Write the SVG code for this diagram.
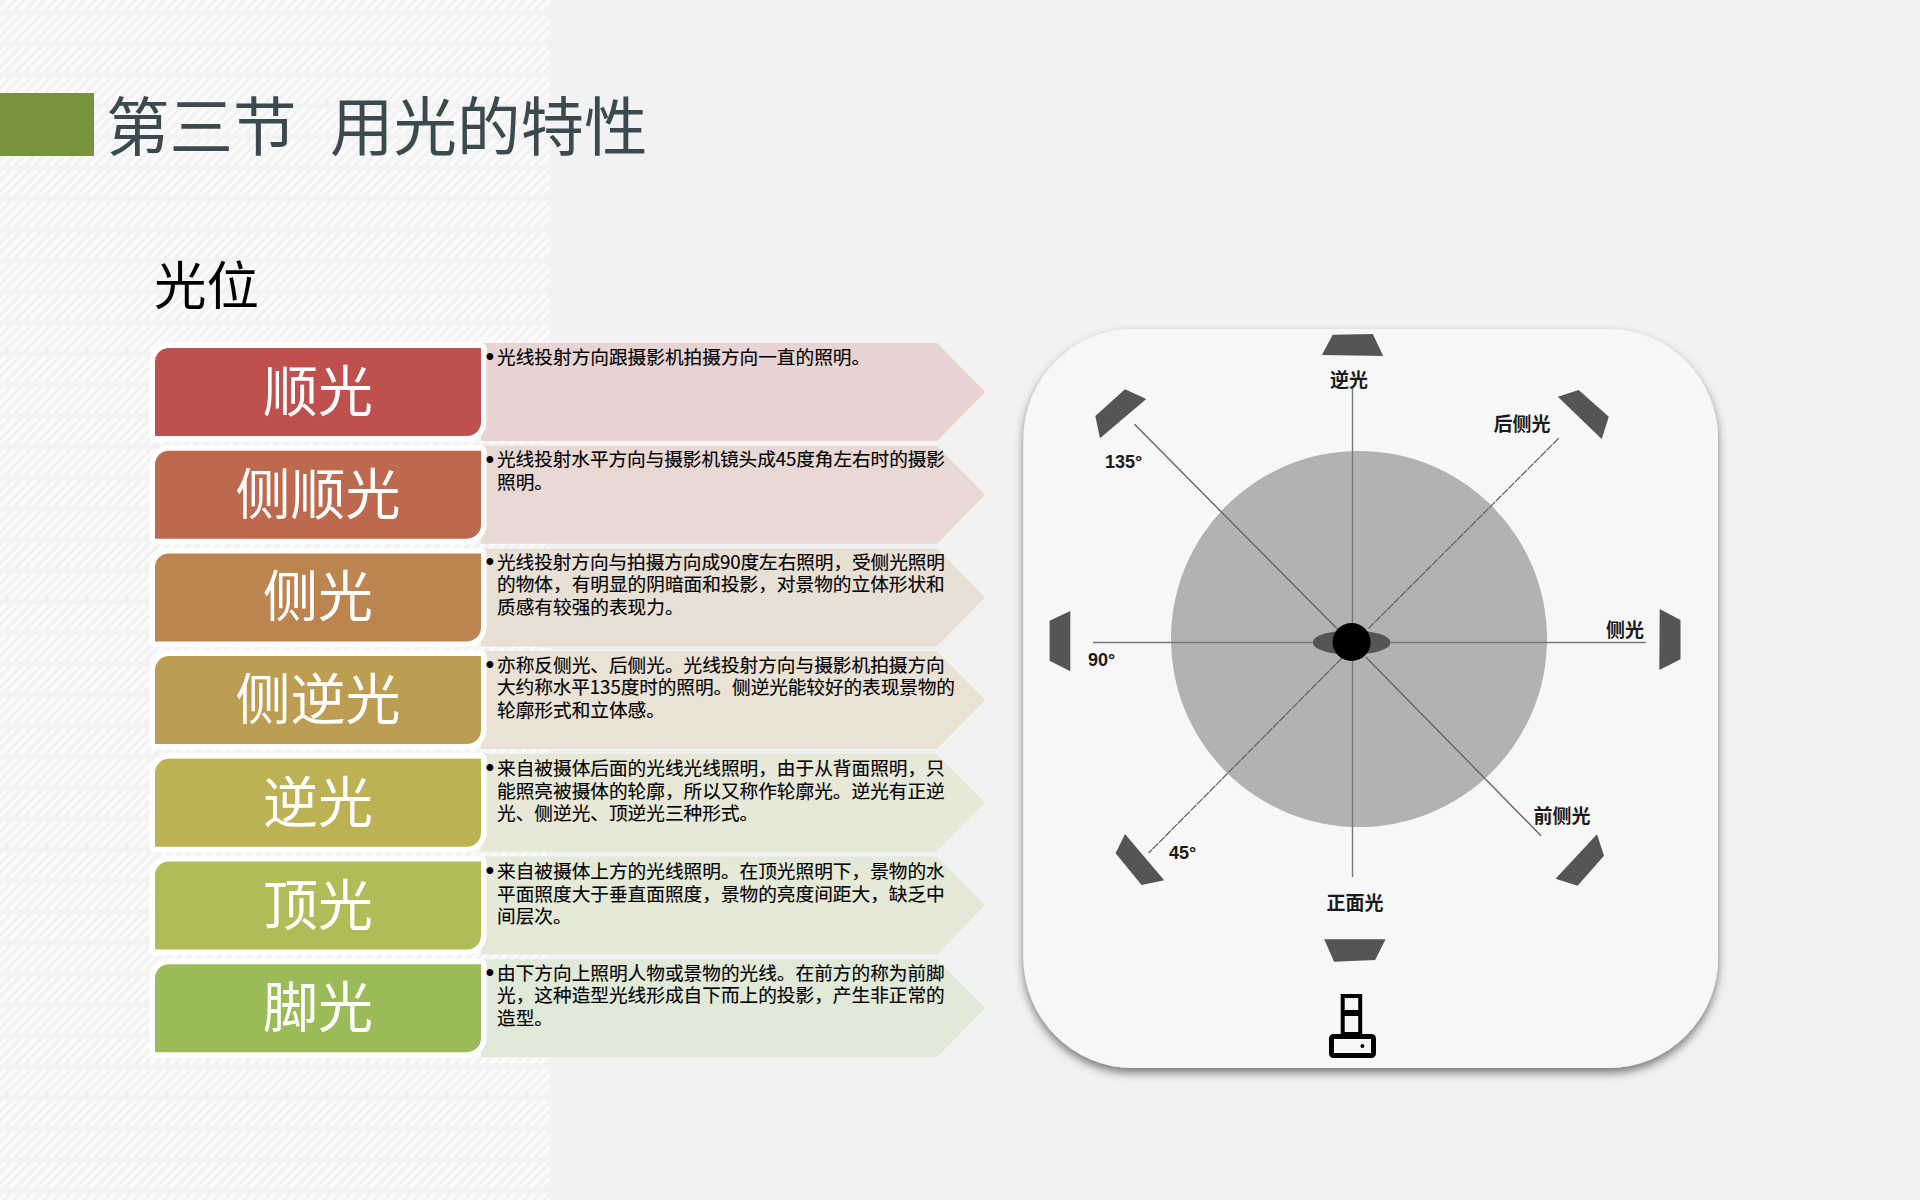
<svg xmlns="http://www.w3.org/2000/svg" width="1920" height="1200" viewBox="0 0 1920 1200">
<style>
text{font-family:"Noto Sans CJK SC","Noto Sans",sans-serif}
.title{font-size:63.5px;fill:#3b4a4e}
.sub{font-size:52.5px;fill:#000}
.label{font-size:55px;fill:#fff;text-anchor:middle}
.desc{font-size:18.67px;fill:#000;stroke:#000;stroke-width:.15}
.bul{font-size:25px;fill:#000;font-family:"Liberation Sans",sans-serif}
.cap{font-size:19px;font-weight:700;fill:#1a1a1a}
.deg{font-size:18px;font-weight:700;fill:#1a1a1a;font-family:"Liberation Sans",sans-serif}
.box{stroke:#fff;stroke-width:11;paint-order:stroke;stroke-linejoin:round}
.lamp{fill:#555}
.ray{stroke:#777;stroke-width:1.4;fill:none}
.ray2{stroke:#666;stroke-width:1.4;fill:none}
.ray3{stroke:#666;stroke-width:1.3;fill:none;stroke-dasharray:8 1}
</style>
<defs>
<pattern id="st" width="10" height="31" patternUnits="userSpaceOnUse" patternTransform="translate(0 15)">
<path d="M-30 26L-4 0M-20 26L6 0M-10 26L16 0M0 26L26 0M10 26L36 0" stroke="#fff" stroke-opacity=".6" stroke-width="4" fill="none"/>
</pattern>
<filter id="sh" x="-5%" y="-5%" width="110%" height="110%">
<feDropShadow dx="0" dy="5" stdDeviation="5" flood-color="#000" flood-opacity=".5"/>
</filter>
<filter id="soft" x="-5%" y="-5%" width="110%" height="110%"><feGaussianBlur stdDeviation=".5"/></filter>
<path id="bx" d="M169 0H481V74A14 14 0 0 1 467 88H155V14A14 14 0 0 1 169 0Z"/>
<polygon id="ar" points="481,-5 937,-5 985,44 937,93 481,93"/>
</defs>
<rect width="1920" height="1200" fill="#f2f2f2"/>
<rect width="550" height="1200" fill="url(#st)"/>
<g id="header">
<rect x="0" y="93" width="94" height="63" fill="#77933c"/>
<text class="title" x="106" y="150">第三节<tspan x="330">用光的特性</tspan></text>
<text class="sub" x="154" y="305">光位</text>
</g>

<g id="node-shunguang" transform="translate(0 348)">
<use href="#ar" fill="#e8d4d3"/><use href="#bx" class="box" fill="#c0504d"/>
<text class="label" x="318" y="63">顺光</text>
<text class="bul" x="485.5" y="17">•</text>
<text class="desc" x="497" y="16">光线投射方向跟摄影机拍摄方向一直的照明。</text>
</g>
<g id="node-ceshunguang" transform="translate(0 450.7)">
<use href="#ar" fill="#e8d9d5"/><use href="#bx" class="box" fill="#bd694e"/>
<text class="label" x="318" y="63">侧顺光</text>
<text class="bul" x="485.5" y="17">•</text>
<text class="desc" y="15"><tspan x="497" textLength="448">光线投射水平方向与摄影机镜头成45度角左右时的摄影</tspan><tspan x="497" y="38">照明。</tspan></text>
</g>
<g id="node-ceguang" transform="translate(0 553.4)">
<use href="#ar" fill="#e8dfd5"/><use href="#bx" class="box" fill="#bc8550"/>
<text class="label" x="318" y="63">侧光</text>
<text class="bul" x="485.5" y="17">•</text>
<text class="desc" y="16"><tspan x="497" textLength="448">光线投射方向与拍摄方向成90度左右照明，受侧光照明</tspan><tspan x="497" y="38">的物体，有明显的阴暗面和投影，对景物的立体形状和</tspan><tspan x="497" y="61">质感有较强的表现力。</tspan></text>
</g>
<g id="node-cenieguang" transform="translate(0 656.1)">
<use href="#ar" fill="#e9e2d5"/><use href="#bx" class="box" fill="#bc9d52"/>
<text class="label" x="318" y="63">侧逆光</text>
<text class="bul" x="485.5" y="17">•</text>
<text class="desc" y="16"><tspan x="497">亦称反侧光、后侧光。光线投射方向与摄影机拍摄方向</tspan><tspan x="497" y="38" textLength="458">大约称水平135度时的照明。侧逆光能较好的表现景物的</tspan><tspan x="497" y="61">轮廓形式和立体感。</tspan></text>
</g>
<g id="node-niguang" transform="translate(0 758.8)">
<use href="#ar" fill="#e8e8d8"/><use href="#bx" class="box" fill="#bcb254"/>
<text class="label" x="318" y="63">逆光</text>
<text class="bul" x="485.5" y="17">•</text>
<text class="desc" y="16"><tspan x="497">来自被摄体后面的光线光线照明，由于从背面照明，只</tspan><tspan x="497" y="39">能照亮被摄体的轮廓，所以又称作轮廓光。逆光有正逆</tspan><tspan x="497" y="61">光、侧逆光、顶逆光三种形式。</tspan></text>
</g>
<g id="node-dingguang" transform="translate(0 861.5)">
<use href="#ar" fill="#e5e9d8"/><use href="#bx" class="box" fill="#b0bc57"/>
<text class="label" x="318" y="63">顶光</text>
<text class="bul" x="485.5" y="17">•</text>
<text class="desc" y="16"><tspan x="497">来自被摄体上方的光线照明。在顶光照明下，景物的水</tspan><tspan x="497" y="39">平面照度大于垂直面照度，景物的亮度间距大，缺乏中</tspan><tspan x="497" y="61">间层次。</tspan></text>
</g>
<g id="node-jiaoguang" transform="translate(0 964.2)">
<use href="#ar" fill="#e1e9d9"/><use href="#bx" class="box" fill="#9bbb59"/>
<text class="label" x="318" y="63">脚光</text>
<text class="bul" x="485.5" y="17">•</text>
<text class="desc" y="16"><tspan x="497">由下方向上照明人物或景物的光线。在前方的称为前脚</tspan><tspan x="497" y="38">光，这种造型光线形成自下而上的投影，产生非正常的</tspan><tspan x="497" y="61">造型。</tspan></text>
</g>

<g id="panel">
<rect x="1023.5" y="329" width="694.5" height="739" rx="110" ry="110" fill="#f7f7f7" filter="url(#sh)"/>
<circle cx="1359" cy="639" r="188" fill="#b2b2b2"/>
</g>
<g id="connectors">
<path class="ray" d="M1093 642.5H1312M1391 642.5H1645.6M1352.5 388V623M1352.5 660V877"/>
<path class="ray2" d="M1134.5 424.3L1337.4 629M1365.7 657L1541 835.7"/>
<path class="ray3" d="M1558.7 438.3L1368 629M1342 658L1148.6 853"/>
</g>
<g id="subject">
<ellipse cx="1351.6" cy="642.5" rx="39" ry="12.2" fill="#555"/>
<ellipse cx="1351.6" cy="642" rx="19" ry="19" fill="#000"/>
</g>
<g id="lamps" filter="url(#soft)">
<polygon id="lamp-top" class="lamp" points="1332.7,334.7 1372.8,334 1383.2,356 1321.9,355"/>
<polygon id="lamp-tl" class="lamp" points="1125,389.3 1146.3,399 1100,438.3 1095.3,416"/>
<polygon id="lamp-tr" class="lamp" points="1578.6,390 1608.8,416.7 1601.7,439 1557.8,396.7"/>
<polygon id="lamp-l" class="lamp" points="1070.3,611 1070.3,671.3 1049.6,660.7 1049.6,620.7"/>
<polygon id="lamp-r" class="lamp" points="1659.7,609 1680.5,620 1680.5,659.3 1659.3,670"/>
<polygon id="lamp-bl" class="lamp" points="1125,834 1164.2,880.3 1141.6,885 1115.6,853.3"/>
<polygon id="lamp-br" class="lamp" points="1597,834.3 1604,855.7 1577.6,885.7 1555.5,878.7"/>
<polygon id="lamp-b" class="lamp" points="1324.2,939.3 1385.6,939.3 1375.2,960 1334.1,961.7"/>
</g>
<g id="camera" fill="none" stroke="#000">
<rect x="1342.7" y="996" width="17.5" height="38" stroke-width="4"/>
<path d="M1342.7 1013H1360.2" stroke-width="6"/>
<rect x="1331.5" y="1036.5" width="42" height="19" rx="2" stroke-width="5"/>
<circle cx="1362.4" cy="1046" r="2" fill="#000" stroke="none"/>
</g>
<g id="captions">
<text class="cap" x="1349" y="387" text-anchor="middle">逆光</text>
<text class="cap" x="1522" y="431" text-anchor="middle">后侧光</text>
<text class="cap" x="1625" y="637" text-anchor="middle">侧光</text>
<text class="cap" x="1562" y="823" text-anchor="middle">前侧光</text>
<text class="cap" x="1355" y="910" text-anchor="middle">正面光</text>
<text class="deg" x="1105" y="468">135°</text>
<text class="deg" x="1088" y="666">90°</text>
<text class="deg" x="1169" y="859">45°</text>
</g>
</svg>
